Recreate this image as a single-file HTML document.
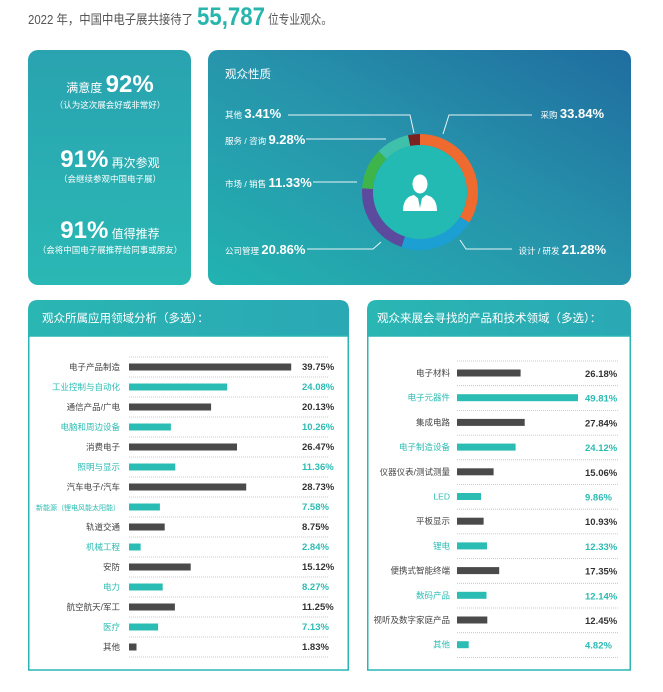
<!DOCTYPE html>
<html><head><meta charset="utf-8"><style>
body{margin:0;background:#fff;width:663px;height:692px;overflow:hidden;font-family:"Liberation Sans","Noto Sans CJK SC",sans-serif}
svg{display:block}
</style></head><body>
<svg width="663" height="692" viewBox="0 0 663 692" xmlns="http://www.w3.org/2000/svg" font-family="Liberation Sans, Noto Sans CJK SC, sans-serif">
<defs>
<linearGradient id="gl" x1="0" y1="0" x2="0" y2="1"><stop offset="0" stop-color="#29a3b0"/><stop offset="1" stop-color="#2ab8b4"/></linearGradient>
<linearGradient id="gr" x1="0" y1="1" x2="1" y2="0"><stop offset="0" stop-color="#22b3b0"/><stop offset="0.5" stop-color="#2795ac"/><stop offset="1" stop-color="#1f6d9f"/></linearGradient>
<linearGradient id="gh" x1="0" y1="0" x2="1" y2="0"><stop offset="0" stop-color="#2ab6b3"/><stop offset="1" stop-color="#2aa8b4"/></linearGradient>
</defs>
<text x="28" y="24" font-size="13" fill="#555" textLength="165" lengthAdjust="spacingAndGlyphs">2022 年，中国中电子展共接待了</text>
<text x="197" y="25" font-size="25" font-weight="bold" fill="#27b5ad" textLength="68" lengthAdjust="spacingAndGlyphs">55,787</text>
<text x="268" y="24" font-size="13" fill="#555" textLength="64" lengthAdjust="spacingAndGlyphs">位专业观众。</text>

<rect x="28" y="50" width="163" height="235" rx="10" fill="url(#gl)"/>
<rect x="208" y="50" width="423" height="235" rx="10" fill="url(#gr)"/>

<g fill="#fff" text-anchor="middle">
<text x="110" y="92"><tspan font-size="12">满意度 </tspan><tspan font-size="24" font-weight="bold">92%</tspan></text>
<text x="110" y="108" font-size="8.5">（认为这次展会好或非常好）</text>
<text x="110" y="167"><tspan font-size="24" font-weight="bold">91%</tspan><tspan font-size="12"> 再次参观</tspan></text>
<text x="110" y="182" font-size="8.5">（会继续参观中国电子展）</text>
<text x="110" y="238"><tspan font-size="24" font-weight="bold">91%</tspan><tspan font-size="12"> 值得推荐</tspan></text>
<text x="110" y="253" font-size="8.5">（会将中国电子展推荐给同事或朋友）</text>
</g>

<text x="225" y="78" font-size="11.5" fill="#fff">观众性质</text>
<g fill="#fff">
<text x="225" y="118"><tspan font-size="8.5">其他 </tspan><tspan font-size="13" font-weight="bold">3.41%</tspan></text>
<text x="225" y="144"><tspan font-size="8.5">服务 / 咨询 </tspan><tspan font-size="13" font-weight="bold">9.28%</tspan></text>
<text x="225" y="187"><tspan font-size="8.5">市场 / 销售 </tspan><tspan font-size="13" font-weight="bold">11.33%</tspan></text>
<text x="225" y="254"><tspan font-size="8.5">公司管理 </tspan><tspan font-size="13" font-weight="bold">20.86%</tspan></text>
<text x="604" y="118" text-anchor="end"><tspan font-size="8.5">采购 </tspan><tspan font-size="13" font-weight="bold">33.84%</tspan></text>
<text x="606" y="254" text-anchor="end"><tspan font-size="8.5">设计 / 研发 </tspan><tspan font-size="13" font-weight="bold">21.28%</tspan></text>
</g>
<g stroke="#e8f4f6" stroke-width="1" fill="none">
<polyline points="288,115 410,115 414,133"/>
<polyline points="532,115 449,115 443,134"/>
<line x1="306" y1="139" x2="386" y2="139"/>
<line x1="313" y1="182" x2="357" y2="182"/>
<polyline points="307,249 373,249 381,242"/>
<polyline points="512,249 466,249 460,240"/>
</g>
<g transform="translate(420,192) rotate(-90)" fill="none" stroke-width="11">
<circle r="52.5" stroke="#ef6a2e" stroke-dasharray="111.6 218.3" stroke-dashoffset="0"/>
<circle r="52.5" stroke="#1c9fd2" stroke-dasharray="70.2 259.7" stroke-dashoffset="-111.6"/>
<circle r="52.5" stroke="#5c4a9f" stroke-dasharray="68.8 261.1" stroke-dashoffset="-181.8"/>
<circle r="52.5" stroke="#3db54b" stroke-dasharray="37.4 292.5" stroke-dashoffset="-250.6"/>
<circle r="52.5" stroke="#3fc0aa" stroke-dasharray="30.6 299.3" stroke-dashoffset="-288.0"/>
<circle r="52.5" stroke="#7a2222" stroke-dasharray="11.3 318.6" stroke-dashoffset="-318.6"/>
</g>
<circle cx="420" cy="192" r="47" fill="#22bab2"/>
<g fill="#fff">
<ellipse cx="420" cy="184" rx="7.5" ry="9.5"/>
<path d="M403,211 Q403,197 414,195 L420,200 L426,195 Q437,197 437,211 Z"/>
</g>
<path d="M418,198 L420,208 L422,198 Z" fill="#22bab2"/>

<path d="M28,336 L28,310 Q28,300 38,300 L339,300 Q349,300 349,310 L349,336 Z" fill="url(#gh)"/>
<rect x="28.75" y="336" width="319.5" height="334" fill="none" stroke="#2ab6b3" stroke-width="1.5"/>
<text x="42" y="322" font-size="11.5" fill="#fff">观众所属应用领域分析（多选）：</text>
<path d="M367,336 L367,310 Q367,300 377,300 L621,300 Q631,300 631,310 L631,336 Z" fill="url(#gh)"/>
<rect x="367.75" y="336" width="262.5" height="334" fill="none" stroke="#2ab6b3" stroke-width="1.5"/>
<text x="377" y="322" font-size="11.5" fill="#fff">观众来展会寻找的产品和技术领域（多选）：</text>

<g stroke="#bbb" stroke-width="0.8" stroke-dasharray="1 1">
<line x1="129" x2="329" y1="357" y2="357"/><line x1="129" x2="329" y1="377" y2="377"/><line x1="129" x2="329" y1="397" y2="397"/><line x1="129" x2="329" y1="417" y2="417"/><line x1="129" x2="329" y1="437" y2="437"/><line x1="129" x2="329" y1="457" y2="457"/><line x1="129" x2="329" y1="477" y2="477"/><line x1="129" x2="329" y1="497" y2="497"/><line x1="129" x2="329" y1="517" y2="517"/><line x1="129" x2="329" y1="537" y2="537"/><line x1="129" x2="329" y1="557" y2="557"/><line x1="129" x2="329" y1="577" y2="577"/><line x1="129" x2="329" y1="597" y2="597"/><line x1="129" x2="329" y1="617" y2="617"/><line x1="129" x2="329" y1="637" y2="637"/><line x1="129" x2="329" y1="657" y2="657"/>
<line x1="457" x2="619" y1="361" y2="361"/><line x1="457" x2="619" y1="385.7" y2="385.7"/><line x1="457" x2="619" y1="410.4" y2="410.4"/><line x1="457" x2="619" y1="435.1" y2="435.1"/><line x1="457" x2="619" y1="459.8" y2="459.8"/><line x1="457" x2="619" y1="484.5" y2="484.5"/><line x1="457" x2="619" y1="509.2" y2="509.2"/><line x1="457" x2="619" y1="533.9" y2="533.9"/><line x1="457" x2="619" y1="558.6" y2="558.6"/><line x1="457" x2="619" y1="583.3" y2="583.3"/><line x1="457" x2="619" y1="608" y2="608"/><line x1="457" x2="619" y1="632.7" y2="632.7"/><line x1="457" x2="619" y1="657.4" y2="657.4"/>
</g>

<g font-size="8.5">
<g text-anchor="end">
<text x="120" y="370" fill="#444">电子产品制造</text>
<text x="120" y="390" fill="#2bbcb3">工业控制与自动化</text>
<text x="120" y="410" fill="#444">通信产品/广电</text>
<text x="120" y="430" fill="#2bbcb3">电脑和周边设备</text>
<text x="120" y="450" fill="#444">消费电子</text>
<text x="120" y="470" fill="#2bbcb3">照明与显示</text>
<text x="120" y="490" fill="#444">汽车电子/汽车</text>
<text x="120" y="510" fill="#2bbcb3" font-size="7">新能源（锂电风能太阳能）</text>
<text x="120" y="530" fill="#444">轨道交通</text>
<text x="120" y="550" fill="#2bbcb3">机械工程</text>
<text x="120" y="570" fill="#444">安防</text>
<text x="120" y="590" fill="#2bbcb3">电力</text>
<text x="120" y="610" fill="#444">航空航天/军工</text>
<text x="120" y="630" fill="#2bbcb3">医疗</text>
<text x="120" y="650" fill="#444">其他</text>
</g>
<g font-weight="bold" font-size="9.5">
<text x="302" y="370" fill="#333">39.75%</text>
<text x="302" y="390" fill="#2bbcb3">24.08%</text>
<text x="302" y="410" fill="#333">20.13%</text>
<text x="302" y="430" fill="#2bbcb3">10.26%</text>
<text x="302" y="450" fill="#333">26.47%</text>
<text x="302" y="470" fill="#2bbcb3">11.36%</text>
<text x="302" y="490" fill="#333">28.73%</text>
<text x="302" y="510" fill="#2bbcb3">7.58%</text>
<text x="302" y="530" fill="#333">8.75%</text>
<text x="302" y="550" fill="#2bbcb3">2.84%</text>
<text x="302" y="570" fill="#333">15.12%</text>
<text x="302" y="590" fill="#2bbcb3">8.27%</text>
<text x="302" y="610" fill="#333">11.25%</text>
<text x="302" y="630" fill="#2bbcb3">7.13%</text>
<text x="302" y="650" fill="#333">1.83%</text>
</g>
<g text-anchor="end">
<text x="450" y="376" fill="#444">电子材料</text>
<text x="450" y="400.7" fill="#2bbcb3">电子元器件</text>
<text x="450" y="425.4" fill="#444">集成电路</text>
<text x="450" y="450.1" fill="#2bbcb3">电子制造设备</text>
<text x="450" y="474.8" fill="#444">仪器仪表/测试测量</text>
<text x="450" y="499.5" fill="#2bbcb3">LED</text>
<text x="450" y="524.2" fill="#444">平板显示</text>
<text x="450" y="548.9" fill="#2bbcb3">锂电</text>
<text x="450" y="573.6" fill="#444">便携式智能终端</text>
<text x="450" y="598.3" fill="#2bbcb3">数码产品</text>
<text x="450" y="623" fill="#444">视听及数字家庭产品</text>
<text x="450" y="647.7" fill="#2bbcb3">其他</text>
</g>
<g font-weight="bold" font-size="9.5">
<text x="585" y="377" fill="#333">26.18%</text>
<text x="585" y="401.7" fill="#2bbcb3">49.81%</text>
<text x="585" y="426.4" fill="#333">27.84%</text>
<text x="585" y="451.1" fill="#2bbcb3">24.12%</text>
<text x="585" y="475.8" fill="#333">15.06%</text>
<text x="585" y="500.5" fill="#2bbcb3">9.86%</text>
<text x="585" y="525.2" fill="#333">10.93%</text>
<text x="585" y="549.9" fill="#2bbcb3">12.33%</text>
<text x="585" y="574.6" fill="#333">17.35%</text>
<text x="585" y="599.3" fill="#2bbcb3">12.14%</text>
<text x="585" y="624" fill="#333">12.45%</text>
<text x="585" y="648.7" fill="#2bbcb3">4.82%</text>
</g>
</g>

<g>
<rect x="129" y="363.5" width="162.2" height="7" fill="#4a4a4a"/>
<rect x="129" y="383.5" width="98.2" height="7" fill="#2bbcb3"/>
<rect x="129" y="403.5" width="82.1" height="7" fill="#4a4a4a"/>
<rect x="129" y="423.5" width="41.9" height="7" fill="#2bbcb3"/>
<rect x="129" y="443.5" width="108" height="7" fill="#4a4a4a"/>
<rect x="129" y="463.5" width="46.3" height="7" fill="#2bbcb3"/>
<rect x="129" y="483.5" width="117.2" height="7" fill="#4a4a4a"/>
<rect x="129" y="503.5" width="30.9" height="7" fill="#2bbcb3"/>
<rect x="129" y="523.5" width="35.7" height="7" fill="#4a4a4a"/>
<rect x="129" y="543.5" width="11.6" height="7" fill="#2bbcb3"/>
<rect x="129" y="563.5" width="61.7" height="7" fill="#4a4a4a"/>
<rect x="129" y="583.5" width="33.7" height="7" fill="#2bbcb3"/>
<rect x="129" y="603.5" width="45.9" height="7" fill="#4a4a4a"/>
<rect x="129" y="623.5" width="29.1" height="7" fill="#2bbcb3"/>
<rect x="129" y="643.5" width="7.5" height="7" fill="#4a4a4a"/>

<rect x="457" y="369.5" width="63.6" height="7" fill="#4a4a4a"/>
<rect x="457" y="394.2" width="121" height="7" fill="#2bbcb3"/>
<rect x="457" y="418.9" width="67.7" height="7" fill="#4a4a4a"/>
<rect x="457" y="443.6" width="58.6" height="7" fill="#2bbcb3"/>
<rect x="457" y="468.3" width="36.6" height="7" fill="#4a4a4a"/>
<rect x="457" y="493" width="24" height="7" fill="#2bbcb3"/>
<rect x="457" y="517.7" width="26.6" height="7" fill="#4a4a4a"/>
<rect x="457" y="542.4" width="30" height="7" fill="#2bbcb3"/>
<rect x="457" y="567.1" width="42.2" height="7" fill="#4a4a4a"/>
<rect x="457" y="591.8" width="29.5" height="7" fill="#2bbcb3"/>
<rect x="457" y="616.5" width="30.3" height="7" fill="#4a4a4a"/>
<rect x="457" y="641.2" width="11.7" height="7" fill="#2bbcb3"/>
</g>
</svg>
</body></html>
